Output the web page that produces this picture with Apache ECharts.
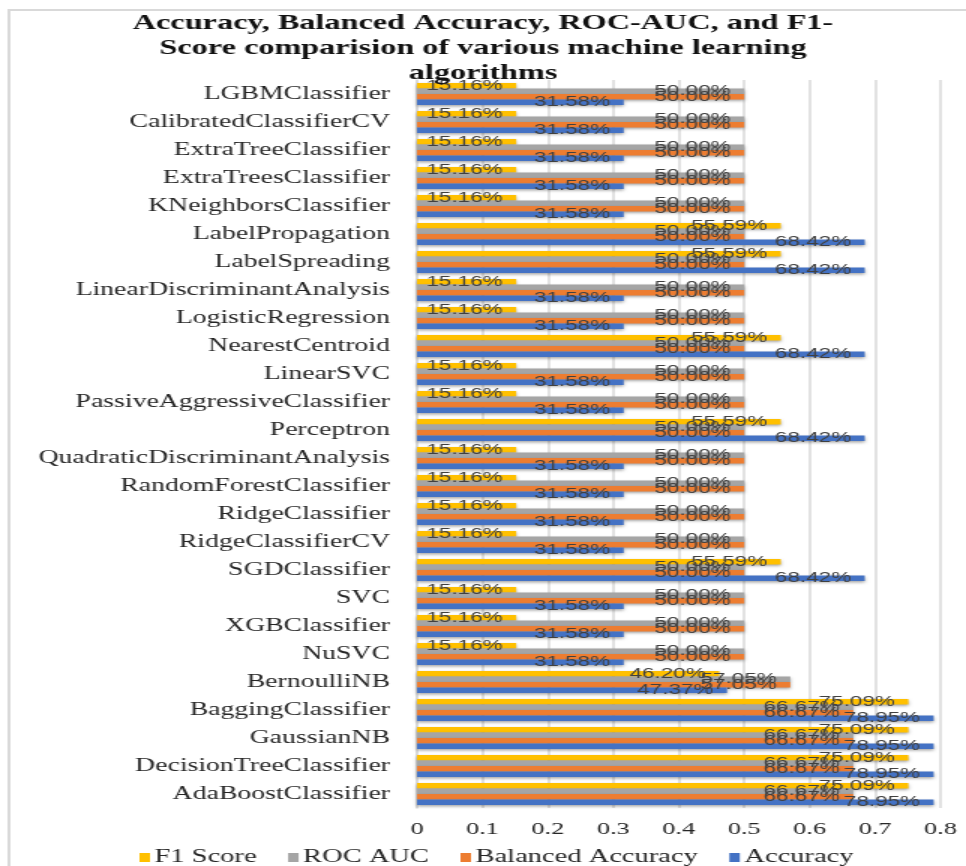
<!DOCTYPE html>
<html>
<head>
<meta charset="utf-8">
<script src="https://cdn.jsdelivr.net/npm/echarts@6/dist/echarts.min.js"></script>
<style>
  html, body { margin: 0; padding: 0; background: #fff; overflow: hidden; }
  #wrap { width: 966px; height: 866px; overflow: hidden; }
  /* the chart is laid out narrow and stretched sideways to get its wide type */
  #chart { width: 644px; height: 866px; transform: scaleX(1.5); transform-origin: 0 0; }
</style>
</head>
<body>
<div id="wrap"><div id="chart"></div></div>
<script>
// Classifiers, listed from the bottom of the chart to the top
const models = [
  'AdaBoostClassifier', 'DecisionTreeClassifier', 'GaussianNB', 'BaggingClassifier',
  'BernoulliNB', 'NuSVC', 'XGBClassifier', 'SVC', 'SGDClassifier', 'RidgeClassifierCV',
  'RidgeClassifier', 'RandomForestClassifier', 'QuadraticDiscriminantAnalysis', 'Perceptron',
  'PassiveAggressiveClassifier', 'LinearSVC', 'NearestCentroid', 'LogisticRegression',
  'LinearDiscriminantAnalysis', 'LabelSpreading', 'LabelPropagation', 'KNeighborsClassifier',
  'ExtraTreesClassifier', 'ExtraTreeClassifier', 'CalibratedClassifierCV', 'LGBMClassifier'
];

const accuracy = [
  0.7895, 0.7895, 0.7895, 0.7895,
  0.4737, 0.3158, 0.3158, 0.3158, 0.6842, 0.3158,
  0.3158, 0.3158, 0.3158, 0.6842,
  0.3158, 0.3158, 0.6842, 0.3158,
  0.3158, 0.6842, 0.6842, 0.3158,
  0.3158, 0.3158, 0.3158, 0.3158
];
const balancedAccuracy = [
  0.6667, 0.6667, 0.6667, 0.6667,
  0.5705, 0.5, 0.5, 0.5, 0.5, 0.5,
  0.5, 0.5, 0.5, 0.5,
  0.5, 0.5, 0.5, 0.5,
  0.5, 0.5, 0.5, 0.5,
  0.5, 0.5, 0.5, 0.5
];
const rocAuc = [
  0.6667, 0.6667, 0.6667, 0.6667,
  0.5705, 0.5, 0.5, 0.5, 0.5, 0.5,
  0.5, 0.5, 0.5, 0.5,
  0.5, 0.5, 0.5, 0.5,
  0.5, 0.5, 0.5, 0.5,
  0.5, 0.5, 0.5, 0.5
];
const f1Score = [
  0.7509, 0.7509, 0.7509, 0.7509,
  0.4620, 0.1516, 0.1516, 0.1516, 0.5559, 0.1516,
  0.1516, 0.1516, 0.1516, 0.5559,
  0.1516, 0.1516, 0.5559, 0.1516,
  0.1516, 0.5559, 0.5559, 0.1516,
  0.1516, 0.1516, 0.1516, 0.1516
];

const xTicks = ['0', '0.1', '0.2', '0.3', '0.4', '0.5', '0.6', '0.7', '0.8'];

const serif = '"Liberation Serif", "Times New Roman", serif';
const sans = '"Liberation Sans", Arial, sans-serif';

function barSeries(name, values, color) {
  return {
    name: name,
    type: 'bar',
    data: values,
    barGap: '0%',
    barCategoryGap: '22%',
    itemStyle: {
      color: color,
      shadowColor: 'rgba(0,0,0,0.35)',
      shadowBlur: 3,
      shadowOffsetY: 1.5
    },
    label: {
      show: true,
      position: 'insideRight',
      distance: 9,
      color: '#404040',
      fontFamily: sans,
      fontSize: 15,
      formatter: p => (p.value * 100).toFixed(2) + '%'
    }
  };
}

const chart = echarts.init(document.getElementById('chart'), null, { renderer: 'canvas' });
chart.setOption({
  animation: false,
  backgroundColor: '#ffffff',
  title: {
    text: 'Accuracy, Balanced Accuracy, ROC-AUC, and F1-\nScore comparision of various machine learning\nalgorithms',
    left: 'center',
    top: 6,
    textStyle: { fontFamily: serif, fontWeight: 'bold', fontSize: 21.5, lineHeight: 25, color: '#111' }
  },
  graphic: [{
    type: 'rect',
    shape: { x: 6, y: 10, width: 800, height: 1000 },
    style: { fill: 'none', stroke: '#d9d9d9', lineWidth: 2 },
    silent: true, z: -1
  }],
  legend: {
    left: 88,
    top: 843,
    itemWidth: 7,
    itemHeight: 9,
    itemGap: 21,
    icon: 'rect',
    textStyle: { fontFamily: serif, fontSize: 19, color: '#262626', padding: [0, 0, 0, -2] }
  },
  grid: { left: 278, right: 17, top: 80, bottom: 58, containLabel: false },
  xAxis: {
    type: 'value',
    min: 0,
    max: 0.8,
    interval: 0.1,
    axisLine: { show: false },
    axisTick: { show: false },
    splitLine: { lineStyle: { color: '#d9d9d9', width: 1.5 } },
    axisLabel: {
      margin: 12,
      fontFamily: serif,
      fontSize: 17.5,
      color: '#262626',
      formatter: v => xTicks[Math.round(v * 10)]
    }
  },
  yAxis: {
    type: 'category',
    data: models,
    axisLine: { show: true, lineStyle: { color: '#d9d9d9', width: 1.5 } },
    axisTick: { show: false },
    axisLabel: { margin: 18, fontFamily: serif, fontSize: 18.5, color: '#262626' }
  },
  series: [
    barSeries('F1 Score', f1Score, '#FFC000'),
    barSeries('ROC AUC', rocAuc, '#A5A5A5'),
    barSeries('Balanced Accuracy', balancedAccuracy, '#ED7D31'),
    barSeries('Accuracy', accuracy, '#4472C4')
  ]
});
</script>
</body>
</html>
